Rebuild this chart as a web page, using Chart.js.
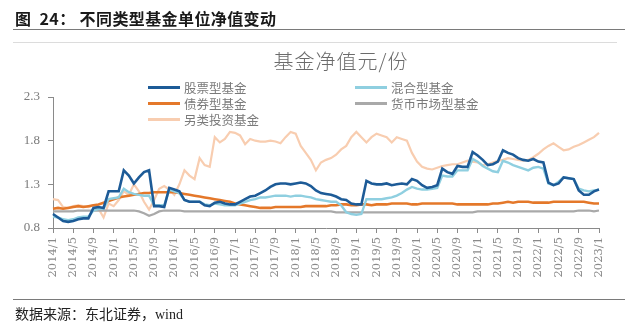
<!DOCTYPE html>
<html>
<head>
<meta charset="utf-8">
<script src="https://cdn.jsdelivr.net/npm/chart.js@4.4.1/dist/chart.umd.min.js"></script>
<style>
  html, body { margin: 0; padding: 0; background: #fff; }
  #wrap { position: relative; width: 640px; height: 327px; overflow: hidden; }
  #fundChart { position: absolute; left: 0; top: 0; }
  .fig-title { position: absolute; left: 15px; top: 6px; font: 700 16px "Noto Sans CJK SC", sans-serif; letter-spacing: 0.4px; color: #1a1a1a; white-space: pre; }
  .rule { position: absolute; left: 13px; width: 612px; height: 0; border-top: 1.5px solid #7a7a7a; }
  .rule.faint { border-top: 1px solid #dcdcdc; width: 604px; }
  .chart-title { position: absolute; left: 240px; width: 202px; top: 46px; text-align: center; font: 300 20px "Noto Sans CJK SC", sans-serif; color: #6b6b6b; letter-spacing: 1px; }
  #legend { position: absolute; left: 148px; top: 79px; display: grid; grid-template-columns: 207px auto; grid-auto-rows: 16px; }
  .lg-item { display: flex; align-items: center; font: 12.5px "Noto Sans CJK SC", sans-serif; color: #7a7a7a; }
  .lg-item i { display: inline-block; width: 32px; height: 0; margin-right: 4px; }
  .source { position: absolute; left: 15px; top: 303px; font: 14px "Liberation Serif", "Noto Sans CJK SC", serif; color: #222; }
</style>
</head>
<body>
<div id="wrap">
  <canvas id="fundChart" width="640" height="327"></canvas>
  <div class="fig-title">图  24： 不同类型基金单位净值变动</div>
  <div class="rule" style="top:29px"></div>
  <div class="rule faint" style="top:42px"></div>
  <div class="chart-title">基金净值元/份</div>
  <div id="legend"></div>
  <div class="rule" style="top:299px"></div>
  <div class="source">数据来源：东北证券，wind</div>
</div>
<script>
// monthly unit NAV, 2014/1 .. 2023/1
const startYear = 2014;
const monthCount = 109;

const tickLabels = [
    '2014/1', '2014/5', '2014/9', '2015/1', '2015/5', '2015/9', '2016/1', '2016/5', '2016/9',
    '2017/1', '2017/5', '2017/9', '2018/1', '2018/5', '2018/9', '2019/1', '2019/5', '2019/9',
    '2020/1', '2020/5', '2020/9', '2021/1', '2021/5', '2021/9', '2022/1', '2022/5', '2022/9', '2023/1'
];
const yTicks = [0.8, 1.3, 1.8, 2.3];

const stockFund = [
    0.96, 0.92, 0.88, 0.87, 0.88, 0.90, 0.91, 0.91, 1.03, 1.04, 1.03, 1.22,
    1.22, 1.22, 1.46, 1.40, 1.31, 1.38, 1.44, 1.46, 1.05, 1.05, 1.04, 1.26,
    1.24, 1.22, 1.12, 1.10, 1.10, 1.10, 1.06, 1.05, 1.09, 1.10, 1.08, 1.07,
    1.07, 1.10, 1.13, 1.16, 1.17, 1.20, 1.23, 1.27, 1.30, 1.31, 1.31, 1.30,
    1.31, 1.32, 1.31, 1.28, 1.23, 1.20, 1.19, 1.18, 1.16, 1.13, 1.12, 1.08,
    1.07, 1.07, 1.34, 1.31, 1.30, 1.30, 1.31, 1.29, 1.30, 1.31, 1.30, 1.36,
    1.34, 1.29, 1.26, 1.27, 1.29, 1.48, 1.44, 1.42, 1.51, 1.50, 1.50, 1.67,
    1.63, 1.58, 1.52, 1.53, 1.56, 1.69, 1.66, 1.64, 1.60, 1.58, 1.57, 1.59,
    1.56, 1.55, 1.32, 1.29, 1.31, 1.38, 1.37, 1.36, 1.23, 1.18, 1.18, 1.22,
    1.24
];
const mixedFund = [
    0.93, 0.92, 0.90, 0.89, 0.90, 0.92, 0.93, 0.93, 1.00, 1.02, 1.02, 1.13,
    1.14, 1.15, 1.25, 1.21, 1.19, 1.18, 1.17, 1.17, 1.06, 1.06, 1.06, 1.24,
    1.22, 1.20, 1.12, 1.10, 1.10, 1.10, 1.07, 1.06, 1.08, 1.07, 1.06, 1.06,
    1.06, 1.08, 1.10, 1.12, 1.13, 1.15, 1.15, 1.16, 1.17, 1.17, 1.17, 1.16,
    1.17, 1.17, 1.16, 1.15, 1.13, 1.12, 1.11, 1.10, 1.10, 1.06, 0.98, 0.96,
    0.95, 0.96, 1.13, 1.13, 1.13, 1.13, 1.14, 1.15, 1.17, 1.20, 1.24, 1.27,
    1.25, 1.24, 1.24, 1.25, 1.26, 1.40, 1.39, 1.39, 1.46, 1.46, 1.46, 1.59,
    1.56, 1.51, 1.48, 1.45, 1.44, 1.57, 1.55, 1.52, 1.50, 1.48, 1.46, 1.49,
    1.50, 1.48, 1.31, 1.29, 1.33, 1.38, 1.37, 1.36, 1.25, 1.23, 1.22, 1.23,
    1.24
];
const bondFund = [
    1.02, 1.03, 1.02, 1.03, 1.04, 1.05, 1.04, 1.05, 1.06, 1.07, 1.09, 1.11,
    1.13, 1.15, 1.16, 1.17, 1.18, 1.19, 1.20, 1.20, 1.21, 1.21, 1.21, 1.21,
    1.21, 1.20, 1.19, 1.18, 1.17, 1.16, 1.15, 1.14, 1.13, 1.12, 1.11, 1.10,
    1.08, 1.07, 1.06, 1.05, 1.04, 1.03, 1.03, 1.03, 1.04, 1.04, 1.04, 1.04,
    1.04, 1.04, 1.05, 1.05, 1.05, 1.05, 1.05, 1.06, 1.06, 1.07, 1.07, 1.06,
    1.06, 1.07, 1.07, 1.06, 1.07, 1.07, 1.07, 1.08, 1.08, 1.08, 1.08, 1.07,
    1.07, 1.08, 1.08, 1.08, 1.08, 1.08, 1.08, 1.08, 1.07, 1.07, 1.07, 1.07,
    1.07, 1.07, 1.07, 1.08, 1.08, 1.09, 1.10, 1.09, 1.10, 1.10, 1.10, 1.09,
    1.09, 1.09, 1.09, 1.10, 1.10, 1.10, 1.10, 1.10, 1.10, 1.10, 1.09, 1.08,
    1.08
];
const moneyFund = [
    0.99, 0.99, 0.99, 0.99, 0.99, 1.00, 1.00, 1.00, 1.00, 1.00, 1.00, 1.00,
    1.00, 1.00, 1.00, 1.00, 1.00, 0.99, 0.97, 0.94, 0.96, 0.99, 1.00, 1.00,
    1.00, 1.00, 0.99, 0.99, 0.99, 0.99, 0.99, 0.99, 0.99, 0.99, 0.99, 0.99,
    0.99, 0.99, 0.99, 0.99, 0.99, 0.99, 0.99, 0.99, 0.99, 0.99, 0.99, 0.99,
    0.99, 0.99, 0.99, 0.99, 0.99, 0.99, 0.99, 0.99, 0.98, 0.98, 0.98, 0.98,
    0.98, 0.98, 0.98, 0.98, 0.98, 0.98, 0.98, 0.98, 0.98, 0.98, 0.98, 0.98,
    0.98, 0.98, 0.98, 0.98, 0.98, 0.98, 0.98, 0.98, 0.98, 0.98, 0.98, 0.98,
    0.99, 0.99, 0.99, 0.99, 0.99, 0.99, 0.99, 0.99, 0.99, 0.99, 0.99, 0.99,
    0.99, 0.99, 0.99, 0.99, 0.99, 0.99, 0.99, 0.99, 1.00, 1.00, 1.00, 0.99,
    1.00
];
const altFund = [
    1.13, 1.12, 1.04, 1.03, 1.05, 1.06, 1.05, 1.04, 1.06, 1.02, 0.92, 1.08,
    1.05, 1.12, 1.22, 1.18, 1.30, 1.22, 1.10, 1.01, 1.12, 1.25, 1.28, 1.24,
    1.18, 1.30, 1.46, 1.40, 1.36, 1.60, 1.52, 1.50, 1.84, 1.78, 1.82, 1.90,
    1.89, 1.86, 1.76, 1.82, 1.80, 1.79, 1.79, 1.80, 1.79, 1.77, 1.84, 1.90,
    1.88, 1.74, 1.66, 1.58, 1.46, 1.55, 1.58, 1.60, 1.64, 1.70, 1.74, 1.84,
    1.90, 1.84, 1.78, 1.84, 1.88, 1.86, 1.84, 1.78, 1.84, 1.82, 1.80, 1.66,
    1.56, 1.50, 1.48, 1.47, 1.49, 1.51, 1.52, 1.53, 1.53, 1.55, 1.57, 1.56,
    1.55, 1.52, 1.53, 1.55, 1.57, 1.58, 1.60, 1.59, 1.58, 1.57, 1.58, 1.61,
    1.65, 1.70, 1.74, 1.77, 1.73, 1.69, 1.70, 1.73, 1.75, 1.78, 1.81, 1.84,
    1.89
];

// dataset 0 is drawn on top, so the stock line sits above the rest
const series = [
    { name: '股票型基金', data: stockFund, color: '#1d5b97', width: 2.6 },
    { name: '混合型基金', data: mixedFund, color: '#8fcfe0', width: 2.4 },
    { name: '债券型基金', data: bondFund, color: '#e4782a', width: 2.6 },
    { name: '货币市场型基金', data: moneyFund, color: '#a9a9a9', width: 2.2 },
    { name: '另类投资基金', data: altFund, color: '#f8cdb0', width: 2.2 }
];

const months = [];
for (let i = 0; i < monthCount; i++) {
    months.push((startYear + Math.floor(i / 12)) + '/' + (i % 12 + 1));
}

// legend, two columns filled row by row
const legend = document.getElementById('legend');
series.forEach(s => {
    const item = document.createElement('div');
    item.className = 'lg-item';
    item.innerHTML = '<i style="border-top:3px solid ' + s.color + '"></i>' + s.name;
    legend.appendChild(item);
});

const axisColor = '#8a8a8a';

new Chart(document.getElementById('fundChart'), {
    type: 'line',
    data: {
        labels: months,
        datasets: series.map(s => ({
            label: s.name,
            data: s.data,
            borderColor: s.color,
            backgroundColor: s.color,
            borderWidth: s.width,
            pointRadius: 0,
            tension: 0,
            fill: false
        }))
    },
    options: {
        responsive: false,
        animation: false,
        layout: { padding: { top: 97, left: 0, right: 41, bottom: 39 } },
        plugins: {
            legend: { display: false },
            tooltip: { enabled: false }
        },
        scales: {
            x: {
                offset: false,
                afterFit: axis => { axis.height = 60; },
                grid: { drawOnChartArea: false, tickLength: 5, color: axisColor },
                border: { color: axisColor, width: 1 },
                ticks: {
                    autoSkip: false,
                    minRotation: 90,
                    maxRotation: 90,
                    padding: 4,
                    color: '#8a8a8a',
                    font: { family: '"DejaVu Serif", serif', size: 11.5 },
                    callback: (val, idx) => tickLabels.includes(months[idx]) ? months[idx] : null
                }
            },
            y: {
                min: 0.8,
                max: 2.3,
                afterFit: axis => { axis.width = 53; },
                afterBuildTicks: axis => { axis.ticks = yTicks.map(v => ({ value: v })); },
                grid: { drawOnChartArea: false, tickLength: 5, color: axisColor },
                border: { color: axisColor, width: 1 },
                ticks: {
                    padding: 8,
                    color: '#7a7a7a',
                    font: { family: '"Liberation Serif", serif', size: 13 },
                    callback: v => Number(v).toFixed(1)
                }
            }
        }
    }
});
</script>
</body>
</html>
